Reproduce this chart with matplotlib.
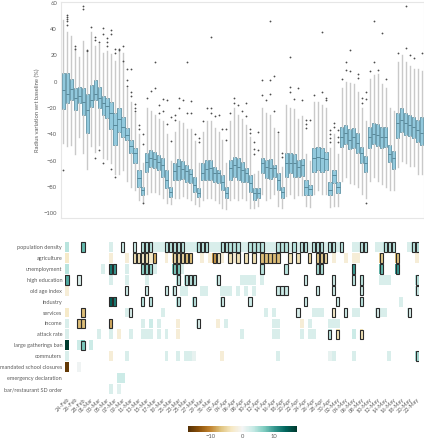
import numpy as np
import matplotlib
matplotlib.use("Agg")
import matplotlib.pyplot as plt
from matplotlib.patches import Rectangle
import pandas as pd

plt.rcParams['font.family'] = ['Lato', 'DejaVu Sans']

# ---------------- data ----------------
box_dates = pd.date_range('2020-02-24', periods=91)
heat_dates = pd.date_range('2020-02-24', periods=89)
heat_labels = [d.strftime('%d-%b') for d in heat_dates]

q3 = [6.3, 6.3, 2.3, -5, -4.3, -5, -9, -2.5, 1.3, -4.3, -11, -12.7, -15, -24, -20, -26.6, -35, -44, -50.6, -67,
      -79.7, -54.4, -52, -53, -55.7, -58, -67, -79.7, -62, -59, -60, -63, -66, -72, -81, -62, -59.5, -59.5, -64.6, -67,
      -70.9, -79.7, -59.5, -57, -58, -60.8, -65.8, -70.9, -81, -81, -58, -59.5, -59, -63.3, -69.6, -79.7, -53.9, -54.4, -55, -59.5,
      -58.5, -74.7, -78.5, -50.6, -49.4, -50.6, -53.2, -76, -67, -76, -34.2, -32.9, -36.2, -35.4, -39.2, -49.4, -56.5, -34.7, -31.1, -32.2,
      -34.2, -34.2, -48.1, -52.4, -24, -20.3, -23.5, -25.3, -26.6, -29.1, -27.1]
q1 = [-21, -16, -14, -21.5, -16.5, -25, -38.7, -19, -14, -20, -25, -27.8, -36, -48, -38, -41.8, -44, -54, -62, -79.7,
      -86, -68.4, -64.5, -65.8, -67, -72, -81, -87.3, -74.7, -74.7, -74, -76, -77, -83.5, -87.3, -74.7, -74.7, -74.7, -76, -76.7,
      -82.3, -88.6, -74.7, -72, -74.7, -76, -76, -83.5, -89.9, -88.6, -69.6, -73.4, -74.2, -72.2, -82.3, -88.6, -72.2, -69.6, -72, -72,
      -71.6, -86, -86, -68.4, -67, -68.4, -67, -86, -77.2, -84.3, -49.4, -47.3, -51.4, -50.6, -54.4, -62, -68.4, -50.6, -47.3, -48.9,
      -50.6, -49.4, -60.8, -66.6, -43, -38, -40.5, -41.3, -43, -45.6, -48.1]
med = [-6.3, -9.6, -5.8, -12.7, -11, -15, -21.5, -14, -9.4, -12.7, -16.5, -18.5, -24, -33, -28, -34, -40.5, -49, -54.4, -73.4,
       -82, -60.8, -58, -59, -61, -63, -74.7, -83.5, -68, -64, -66, -68, -70, -78.5, -84.3, -69, -66, -65.8, -69, -69.6,
       -76, -84.3, -65.8, -63.3, -64.6, -67, -69.6, -77.2, -84.8, -84.8, -62, -64.6, -65.8, -65.8, -74.7, -83.5, -62, -62, -62, -64.6,
       -63.3, -79.7, -81.8, -58.2, -57, -58.2, -59, -82.3, -70.9, -79.7, -42.3, -39.2, -44.3, -42.3, -46.3, -54.4, -62, -42.3, -39.7, -40.5,
       -41.8, -42.3, -54.9, -58.2, -31.6, -29.1, -31.6, -32.9, -34.7, -36.7, -39.2]
whis_hi = [46.8, 38, 35, 26, 19, 31, 22, 38, 27, 29, 22, 23, 21, 16, 23, 22, -5, -15, -24, -40,
           -62, -20, -22, -25, -28, -30, -40, -60, -38, -30, -31, -36, -36, -45, -62, -38, -30, -30, -35, -38,
           -44, -62, -30, -20, -25, -28, -33, -42, -70, -68, -20, -24, -25, -35, -40, -65, -18, -20, -21, -28,
           -26, -55, -60, -15, -15, -18, -20, -50, -40, -55, -5, 0, -1, -2, -8, -20, -30, 2, 5, 6,
           -2, -5, -20, -22, 15, 20, 15, 12, 10, 10, 8]
whis_lo = [-46.8, -49, -48, -55, -42, -54, -66, -49, -53, -48, -58, -59, -62, -70, -70, -67, -75, -80, -82, -90,
           -91, -85, -84, -84, -85, -88, -92, -93, -88, -88, -87, -88, -90, -93, -94, -90, -88, -88, -90, -92,
           -96, -97, -90, -88, -90, -88, -90, -96, -96, -94, -85, -90, -88, -85, -94, -96, -87, -85, -88, -86,
           -86, -94, -95, -85, -82, -85, -85, -95, -94, -94, -75, -72, -77, -78, -80, -85, -88, -75, -72, -75,
           -78, -80, -82, -82, -65, -60, -62, -64, -64, -70, -70]

flier_day = [0, 1, 1, 1, 1, 1, 3, 3, 5, 5, 6, 6, 7, 8, 8, 8, 9, 9, 10, 10, 10, 11, 11, 11, 12, 12, 12, 13, 13, 13,
             14, 14, 15, 15, 16, 16, 16, 17, 17, 17, 18, 18, 18, 19, 19, 20, 20, 20, 21, 22, 23, 23, 24, 24, 25, 25, 26, 26,
             27, 27, 28, 28, 29, 29, 30, 31, 31, 32, 32, 33, 34, 34, 35, 36, 37, 37, 37, 38, 39, 40, 41, 41, 42, 43, 43,
             44, 45, 46, 46, 47, 47, 48, 48, 48, 49, 49, 50, 50, 51, 52, 52, 52, 53, 53, 54, 55, 55, 57, 57, 57, 58, 59,
             60, 61, 61, 61, 62, 63, 65, 65, 66, 66, 67, 67, 67, 67, 68, 68, 69, 69, 69, 70, 71, 71, 72, 72, 74, 74,
             75, 75, 76, 76, 76, 77, 78, 78, 79, 80, 81, 84, 86, 86, 87, 88, 90]
flier_val = [-67, 51, 49.5, 47.5, 46, 43, 27, 25, 57.5, 55.5, 24, 23, 41.8, 34, 32, -58, 30, -52, 41, 36, -62, 33, 30, 27, 39, 36, -66, 25, 22, -72,
             25, 24, 27, 16, -3, 1, 10, 9.4, -8, -11, -17, -20, -22, -33, -36, -40, -47, -92, -12, -7, 15, -5, -18, -24, -13, -22, -14, -32,
             -27, -45, -25, -29, -12.6, -20, -14, 15, -24, -14.4, -24, -40, -43, -46, -30, -20, 34.2, -20, -24, -26, -25, -36, -36, -44, -23.5, -12, -16,
             -18, -22, -16, -26, -36, -39, -46, -51, -55, -38, -52, 1.3, -10, -14, 46, 1.3, -9, 4, -22, -38, -54, -57, 18.5, -4, -8, -13, -5,
             -14, -29, -32, -35, -29, -10, 38, -8, -12, -14, -37, -40, -43, -46, -31, -34, -37, -42, -46, 2, 15.2, 9, 24, 8, 3, 6,
             -12, -16, -8, -13, -92, 8.4, 46.3, 15, 8.9, 36.7, 2, 22, 57.5, 26, 20, 18, 21.5]

row_labels = ["population density", "agriculture", "unemployment", "high education", "old age index",
              "industry", "services", "income", "attack rate", "large gatherings ban", "commuters",
              "mandated school closures", "emergency declaration", "bar/restaurant SD order"]

# coefficient values per column (missing = not shown) and significant (outlined) columns
pop_density = {0: 4, 4: 8, 11: 2, 14: 3, 17: 3, 19: 4, 20: 4, 21: 4, 22: 2, 23: 2, 24: 2, 25: 4, 26: 4, 27: 4, 28: 4,
               29: 4, 30: 2, 31: 2, 32: 2, 33: 4, 34: 4, 35: 4, 36: 2, 37: 2, 38: 2, 39: 4, 40: 4, 41: 4, 42: 4, 43: 4,
               44: 2, 45: 2, 46: 4, 47: 4, 48: 4, 49: 4, 50: 2, 51: 2, 52: 2, 53: 4, 54: 4, 55: 4, 56: 2, 57: 4, 58: 2,
               59: 4, 60: 4, 61: 2, 62: 4, 63: 4, 64: 4, 65: 2, 66: 4, 67: 4, 68: 2, 69: 4, 72: 2, 73: 2, 74: 4, 75: 4,
               78: 2, 79: 2, 80: 4, 81: 4, 82: 4, 86: 2, 87: 4, 88: 4}
pop_density_sig = [4, 14, 17, 19, 20, 21, 25, 26, 27, 28, 29, 33, 34, 35, 39, 40, 41, 42, 43, 46, 47, 48, 49, 53, 54, 55,
                   57, 59, 60, 62, 63, 64, 66, 67, 69, 74, 75, 80, 81, 82, 87, 88]
agriculture = {0: -3, 11: -2, 15: -2, 17: -4, 18: -4, 19: -3, 20: -4, 21: -3, 22: -8, 25: -2, 27: -5, 28: -5, 29: -5,
               30: -7, 31: -7, 34: -2, 36: -2, 37: -9, 38: -4, 39: -2, 41: -4, 42: -2, 43: -4, 45: -4, 47: -4,
               49: -7, 50: -7, 51: -7, 52: -7, 53: -7, 56: -4, 58: -4, 61: -5, 63: -6, 64: -6, 65: -5, 67: -2,
               70: -2, 72: -2, 73: -2, 79: -6, 83: -7, 88: -2}
agriculture_sig = [17, 18, 19, 20, 22, 27, 28, 29, 30, 31, 37, 38, 41, 43, 45, 47, 49, 50, 51, 52, 53, 56, 58, 61,
                   63, 64, 65, 79, 83]
unemployment = {0: 4, 9: 2, 11: 12, 12: 10, 15: 2, 19: 6, 20: 6, 21: 6, 22: 2, 27: 7, 28: 7, 29: 2, 49: 4, 55: 4,
                63: 5, 64: 5, 72: 10, 79: 8, 83: 10}
unemployment_sig = [11, 12, 19, 20, 21, 27, 28, 49, 55, 63, 64, 72, 79, 83]
high_education = {0: 9, 3: 2, 11: 2, 15: 2, 20: 2, 28: 4, 30: 4, 31: 4, 32: 4, 38: 3, 44: 2, 45: 2, 46: 2,
                  47: 2, 49: 2, 60: 3, 67: 3, 72: 4, 74: 4, 79: 2, 80: 2, 81: 2, 88: 4}
high_education_sig = [0, 3, 28, 30, 31, 32, 38, 60, 67, 72, 74, 88]
old_age = {0: -2, 15: 3, 20: 3, 25: 3, 27: 3, 29: 2, 30: 2, 34: 2, 35: 2, 39: 2, 40: 2, 41: 2, 43: 2, 45: 2,
           47: 2, 53: 3, 54: 3, 55: 3, 63: 3, 67: 3, 74: 3, 88: 3}
old_age_sig = [15, 20, 25, 27, 53, 54, 55, 63, 67, 74, 88]
industry = {11: 14, 12: 12, 19: 4, 21: 4, 28: 4, 32: 4, 39: 3, 46: 3, 60: 3, 68: 3, 74: 4, 84: 2}
industry_sig = [11, 12, 19, 21, 28, 32, 39, 46, 60, 68, 74]
services = {0: -3, 4: -7, 15: 2, 16: 2, 24: 2, 50: 2, 52: 2, 58: 2, 62: 2, 63: 2, 64: 2, 67: -3, 70: 3,
            72: 2, 73: 2, 78: 2, 79: 2, 80: 2, 86: 2}
services_sig = [4, 16, 58, 67, 70, 78, 86]
income = {0: 2, 3: -7, 4: -7, 11: -8, 19: 2, 21: 3, 23: 2, 28: -2, 33: 2, 38: -2, 40: 2, 52: 2, 53: 2, 59: -2,
          61: 2, 66: 2, 67: 2, 68: 2}
income_sig = [3, 4, 11, 33]
attack_rate = {0: 2, 8: 2, 11: 2, 13: -2, 16: 2, 19: 2, 20: 2, 21: 2, 23: 2, 25: 2, 28: -2, 44: 2, 52: 2, 53: 2,
               59: 2, 61: 2, 62: 2, 66: 4, 68: -4, 72: 3, 74: -4}
attack_rate_sig = [66, 68, 74]
gatherings = {0: 17, 3: 3, 4: 7, 6: 3}
gatherings_sig = [4]
commuters = {0: 2, 11: -2, 15: 2, 25: 2, 28: 2, 30: 2, 31: 2, 32: 1, 39: -2, 53: 2, 66: 1, 67: 2, 72: 2, 81: 2, 88: 5}
commuters_sig = [88]
school_closures = {0: -16, 3: 0.4}
school_closures_sig = []
emergency = {13: 3, 14: 3}
emergency_sig = []
bar_order = {11: 2, 13: 1.5}
bar_order_sig = []

row_values = [pop_density, agriculture, unemployment, high_education, old_age, industry, services, income,
              attack_rate, gatherings, commuters, school_closures, emergency, bar_order]
row_sig = [pop_density_sig, agriculture_sig, unemployment_sig, high_education_sig, old_age_sig, industry_sig,
           services_sig, income_sig, attack_rate_sig, gatherings_sig, commuters_sig, school_closures_sig,
           emergency_sig, bar_order_sig]

# ---------------- figure ----------------
W, H = 424, 440
fig = plt.figure(figsize=(W / 100, H / 100), dpi=100)

def frac(x0, y0, x1, y1):
    return [x0 / W, 1 - y1 / H, (x1 - x0) / W, (y1 - y0) / H]

grey_txt = '#5c5c5c'
n = len(box_dates)
m = len(heat_dates)

# ---- boxplot ----
ax = fig.add_axes(frac(61.3, 1.7, 423.5, 218.3))
stats = []
for i in range(n):
    fl = [v for d, v in zip(flier_day, flier_val) if d == i]
    stats.append(dict(med=med[i], q1=q1[i], q3=q3[i], whislo=whis_lo[i], whishi=whis_hi[i], fliers=fl))
ax.bxp(stats, positions=np.arange(n), widths=0.8, patch_artist=True, showcaps=False,
       boxprops=dict(facecolor='#92c9dd', edgecolor='#5f93a6', linewidth=0.6),
       medianprops=dict(color='#4f7f91', linewidth=0.6),
       whiskerprops=dict(color='#c9c9c9', linewidth=1.0),
       flierprops=dict(marker='o', markersize=1.3, markerfacecolor='#4d4d4d', markeredgewidth=0))
ax.set_xlim(-0.5, n - 0.5)
ax.set_ylim(-103.7, 60.8)
ax.set_yticks([60, 40, 20, 0, -20, -40, -60, -80, -100])
ax.set_xticks([])
ax.tick_params(axis='y', length=0, labelsize=4.2, labelcolor=grey_txt, pad=3)
for s in ax.spines.values():
    s.set_color('#e6e6e6')
    s.set_linewidth(0.8)
ax.set_ylabel('Radius variation wrt baseline (%)', fontsize=4.2, color=grey_txt, labelpad=2.5)

# ---- heatmap ----
hx = fig.add_axes(frac(65, 241.5, 65 + 3.98 * m, 394.5))
mesh = None
for r, d in enumerate(row_values):
    rowvals = np.full((1, m), np.nan)
    for c, v in d.items():
        rowvals[0, c] = v
    mesh = hx.pcolormesh(np.arange(m + 1), [r + 0.05, r + 0.95], np.ma.masked_invalid(rowvals),
                         cmap='BrBG', vmin=-17, vmax=17)
for r, sig in enumerate(row_sig):
    for c in sig:
        hx.add_patch(Rectangle((c + 0.08, r + 0.06), 0.84, 0.88, fill=False, edgecolor='#2b2b2b', linewidth=0.8))
hx.set_xlim(0, m)
hx.set_ylim(len(row_labels), 0)
hx.set_yticks(np.arange(len(row_labels)) + 0.5)
hx.set_yticklabels(row_labels)
hx.set_xticks(np.arange(0, m, 2) + 0.5)
hx.set_xticklabels(heat_labels[::2], rotation=45, ha='right', rotation_mode='anchor')
hx.tick_params(length=0, labelsize=4.0, labelcolor=grey_txt, pad=2)
for s in hx.spines.values():
    s.set_visible(False)

# ---- colorbar ----
cax = fig.add_axes(frac(188, 426, 296.5, 431.7))
cb = fig.colorbar(mesh, cax=cax, orientation='horizontal')
cb.outline.set_visible(False)
cb.set_ticks([-10, 0, 10])
cax.tick_params(length=0, labelsize=4.2, labelcolor=grey_txt, pad=2)

fig.savefig('out.png', dpi=100)
